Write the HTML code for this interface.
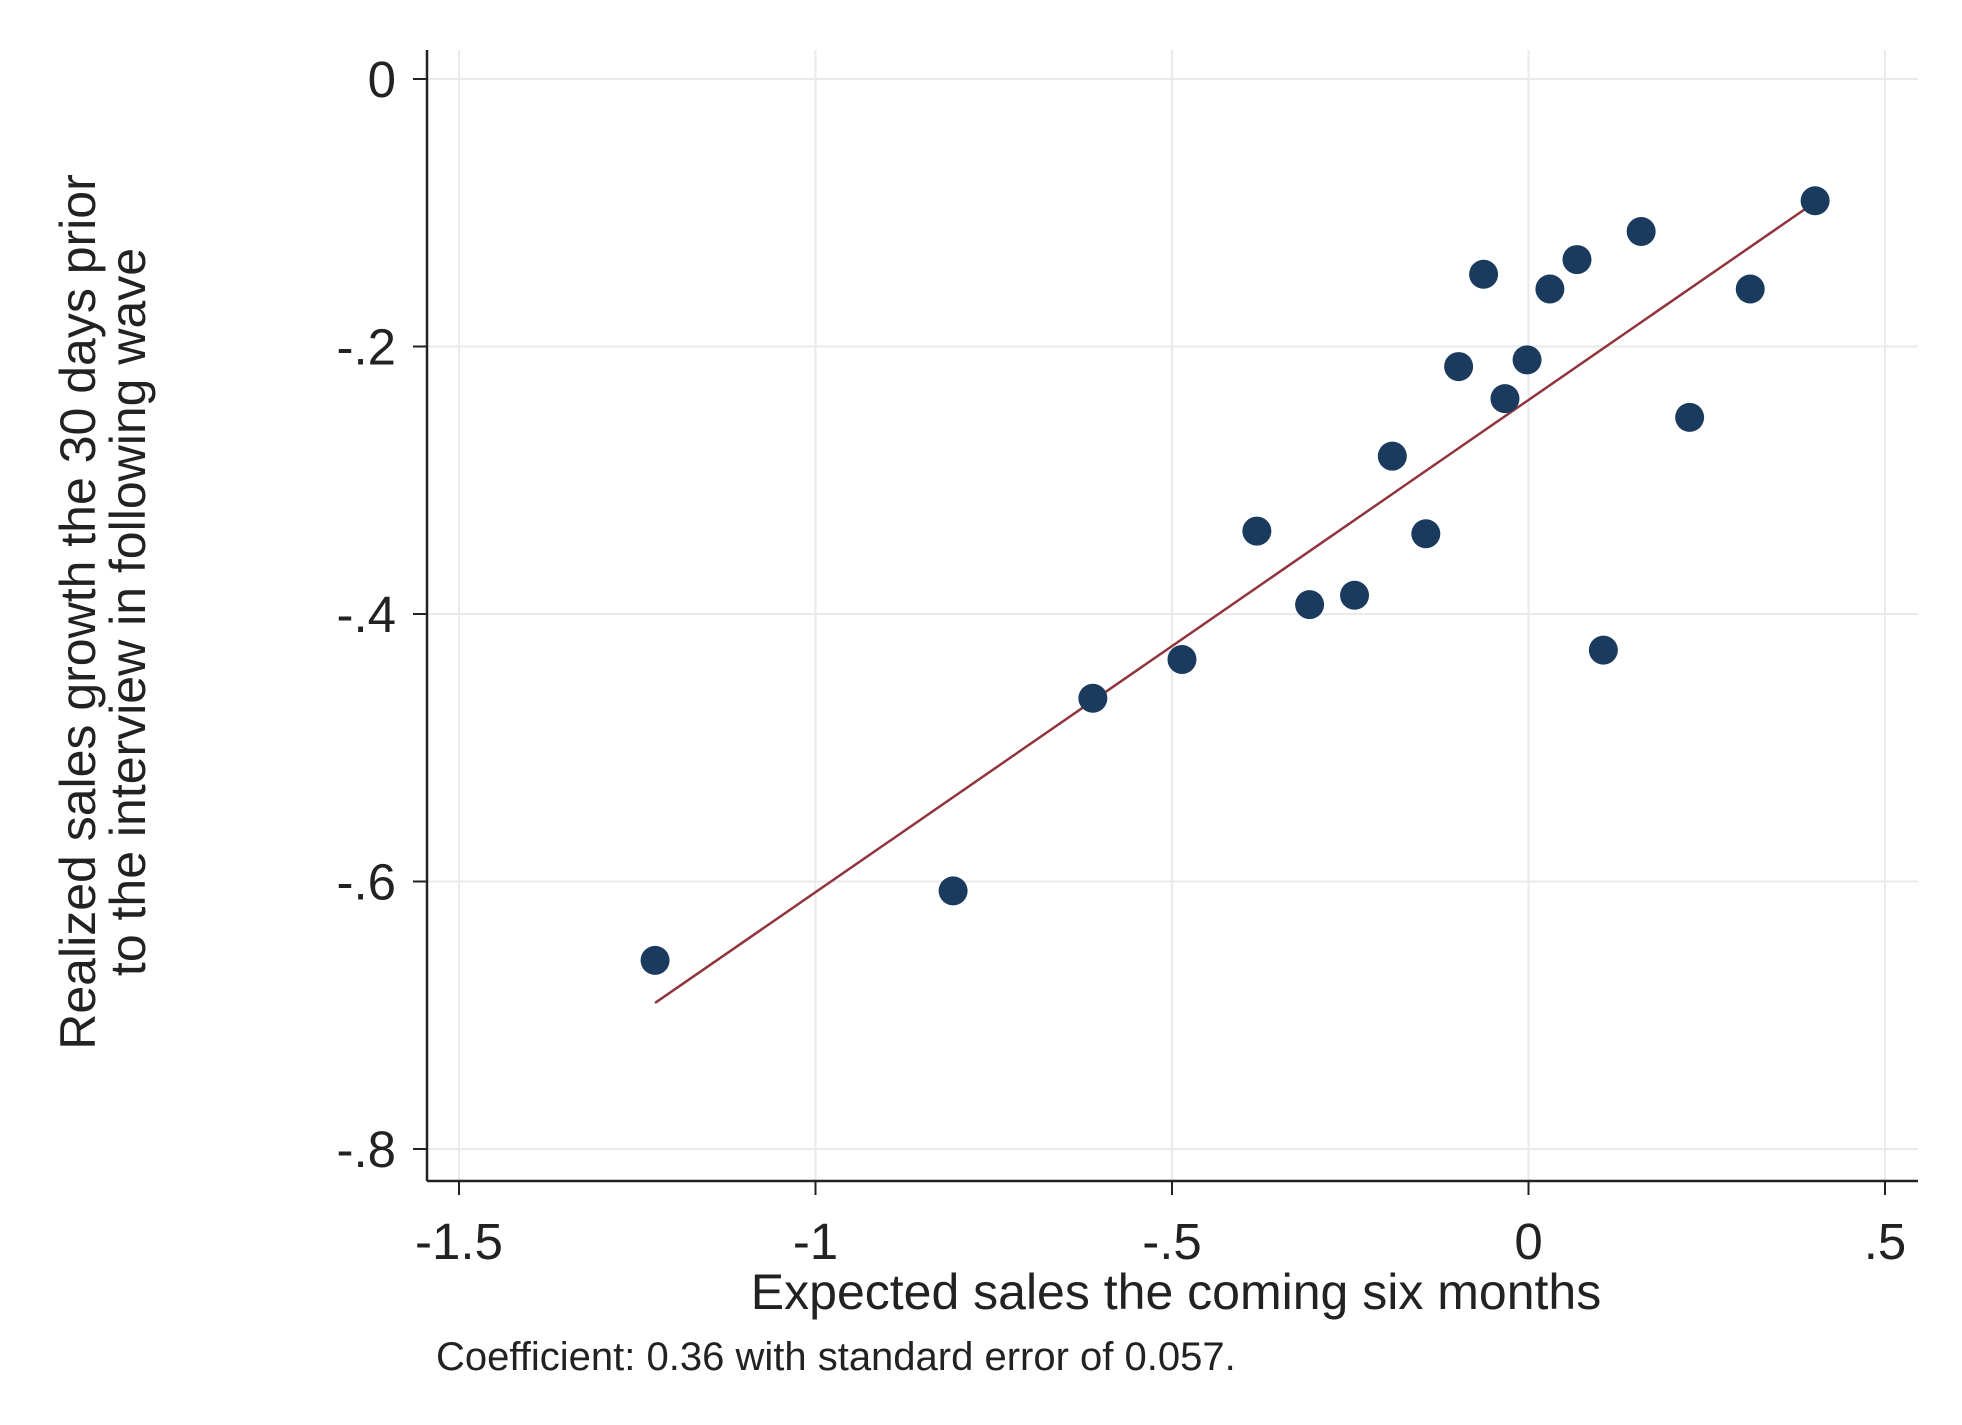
<!DOCTYPE html>
<html><head><meta charset="utf-8"><style>
body{margin:0;background:#fff;}
svg text{font-family:"Liberation Sans",sans-serif;fill:#222;}
</style></head><body>
<svg id="chart" width="1962" height="1420" xmlns="http://www.w3.org/2000/svg">
<rect width="1962" height="1420" fill="#fff"/>
<g id="grid"></g>
<g id="axes"></g>
<g id="fit"></g>
<g id="pts"></g>
<text x="1176" y="1309" font-size="50" text-anchor="middle">Expected sales the coming six months</text>
<text transform="translate(95,612) rotate(-90)" font-size="50" text-anchor="middle">Realized sales growth the 30 days prior</text>
<text transform="translate(145,612) rotate(-90)" font-size="50" text-anchor="middle">to the interview in following wave</text>
<text x="436" y="1370" font-size="40">Coefficient: 0.36 with standard error of 0.057.</text>
</svg>
<script>
const xVals=[-1.225,-0.807,-0.611,-0.486,-0.381,-0.307,-0.244,-0.191,-0.144,-0.098,-0.063,-0.033,-0.002,0.030,0.068,0.105,0.158,0.226,0.311,0.402];
const yVals=[-0.659,-0.607,-0.463,-0.434,-0.338,-0.393,-0.386,-0.282,-0.340,-0.215,-0.146,-0.239,-0.210,-0.157,-0.135,-0.427,-0.114,-0.253,-0.157,-0.091];
const xTicks=[-1.5,-1,-0.5,0,0.5];
const xTickLabels=["-1.5","-1","-.5","0",".5"];
const yTicks=[0,-0.2,-0.4,-0.6,-0.8];
const yTickLabels=["0","-.2","-.4","-.6","-.8"];
const fitIntercept=-0.24;
const fitSlope=0.368;

const NS="http://www.w3.org/2000/svg";
const X=v=>1528.5+v*713;
const Y=v=>79-v*1337.5;
function mk(tag,attrs,parent){const e=document.createElementNS(NS,tag);for(const k in attrs)e.setAttribute(k,attrs[k]);parent.appendChild(e);return e;}
const grid=document.getElementById('grid'),axes=document.getElementById('axes'),fit=document.getElementById('fit'),pts=document.getElementById('pts');
const L=427,R=1918,T=50,B=1181;
xTicks.forEach((t,i)=>{
 const g=mk('line',{x1:X(t),x2:X(t),y1:T,y2:B,stroke:'#eaeaea','stroke-width':2},grid);
 
 
 const tk=mk('line',{x1:X(t),x2:X(t),y1:B,y2:B+14,stroke:'#222','stroke-width':2},axes);
 
 
 const tx=mk('text',{x:X(t),y:1259,'font-size':51,'text-anchor':'middle'},axes);
 tx.textContent=xTickLabels[i];
 
 
});
yTicks.forEach((t,i)=>{
 const g=mk('line',{x1:L,x2:R,y1:Y(t),y2:Y(t),stroke:'#eaeaea','stroke-width':2},grid);
 
 
 const tk=mk('line',{x1:L-14,x2:L,y1:Y(t),y2:Y(t),stroke:'#222','stroke-width':2},axes);
 
 
 const tx=mk('text',{x:396,y:Y(t)+18,'font-size':51,'text-anchor':'end'},axes);
 tx.textContent=yTickLabels[i];
 
 
});
const ya=mk('line',{x1:L,x2:L,y1:T,y2:B,stroke:'#222','stroke-width':2.5},axes);


const xa=mk('line',{x1:L,x2:R,y1:B,y2:B,stroke:'#222','stroke-width':2.5},axes);


const xmin=Math.min(...xVals),xmax=Math.max(...xVals);
const fl=mk('line',{x1:X(xmin),y1:Y(fitIntercept+fitSlope*xmin),x2:X(xmax),y2:Y(fitIntercept+fitSlope*xmax),stroke:'#90353b','stroke-width':2.5},fit);


xVals.forEach((v,i)=>{
 const c=mk('circle',{cx:X(v),cy:Y(yVals[i]),r:14.5,fill:'#1a3a5e'},pts);
 
 
});
</script>
</body></html>
